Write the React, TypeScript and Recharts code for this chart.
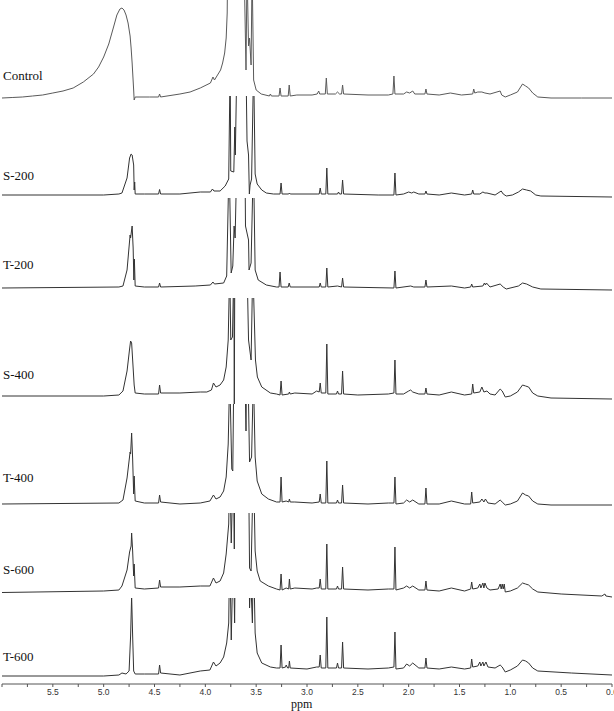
import { LineChart, Line, XAxis, YAxis } from 'recharts';

// each spectrum: [ppm, intensity above its own baseline (px)]
const control = [
  [6.0, 0], [5.9, 0.5], [5.8, 1], [5.7, 2], [5.6, 3], [5.5, 5], [5.4, 7], [5.3, 10], [5.2, 16], [5.1, 24],
  [5.05, 31], [5.0, 41], [4.95, 54], [4.9, 72], [4.87, 83], [4.84, 89], [4.82, 90], [4.8, 88], [4.78, 83],
  [4.76, 75], [4.74, 62], [4.73, 50], [4.72, 35], [4.705, 8], [4.7, -2], [4.69, 1], [4.55, 1], [4.46, 1],
  [4.45, 4], [4.44, 1], [4.25, 4], [4.15, 6], [4.05, 10], [3.95, 15], [3.925, 21], [3.91, 18], [3.85, 28],
  [3.83, 35], [3.81, 45], [3.795, 60], [3.785, 85], [3.78, 140], [3.62, 140], [3.6, 28], [3.59, 130],
  [3.575, 52], [3.565, 60], [3.55, 33], [3.54, 130], [3.525, 18], [3.5, 8], [3.45, 4], [3.37, 2], [3.36, 4],
  [3.35, 2], [3.275, 2], [3.265, 10], [3.255, 2], [3.185, 2], [3.175, 13], [3.165, 2], [3.1, 3], [2.95, 3],
  [2.9, 4], [2.885, 7], [2.875, 4], [2.82, 4], [2.81, 20], [2.8, 4], [2.72, 4], [2.7, 6], [2.68, 4],
  [2.66, 4], [2.65, 13], [2.64, 4], [2.4, 3], [2.2, 3], [2.155, 4], [2.145, 22], [2.135, 4], [2.05, 4],
  [2.02, 6], [1.99, 5], [1.96, 7], [1.94, 4], [1.84, 4], [1.83, 9], [1.82, 4], [1.7, 3], [1.59, 5],
  [1.48, 3], [1.37, 4], [1.36, 9], [1.35, 5], [1.32, 6], [1.28, 6], [1.25, 5], [1.2, 4], [1.1, 7],
  [1.085, 3], [1.05, 1], [1.0, 3], [0.93, 6], [0.88, 14], [0.85, 12], [0.82, 10], [0.78, 5], [0.73, 1],
  [0.6, 0], [0.3, 0], [0.0, 0],
];

const s200 = [
  [6.0, 0], [5.0, 0], [4.85, 1], [4.82, 2], [4.77, 17], [4.745, 37], [4.73, 41], [4.72, 40], [4.705, 30],
  [4.7, 5], [4.695, 13], [4.69, 1], [4.6, 1], [4.46, 1], [4.45, 5.5], [4.44, 1], [4.25, 1], [4.05, 3],
  [3.95, 3], [3.93, 6], [3.915, 4], [3.855, 4], [3.805, 9], [3.77, 16], [3.756, 130], [3.75, 24], [3.72, 23],
  [3.71, 68], [3.705, 40], [3.69, 130], [3.6, 130], [3.59, 54], [3.575, 40], [3.567, 1], [3.56, 10],
  [3.545, 16], [3.525, 130], [3.51, 21], [3.49, 11], [3.445, 5], [3.4, 2], [3.33, 1], [3.265, 1],
  [3.255, 12], [3.245, 1], [3.18, 1], [3.173, 2], [3.165, 1], [2.9, 1], [2.88, 1], [2.87, 7], [2.86, 1],
  [2.815, 1], [2.805, 27], [2.795, 1], [2.7, 1], [2.69, 3], [2.68, 1], [2.66, 1], [2.65, 15], [2.64, 1],
  [2.3, 0], [2.145, 0], [2.135, 22], [2.125, 0], [2.05, 1], [2.0, 3], [1.97, 2], [1.95, 3], [1.9, 1],
  [1.84, 1], [1.83, 4], [1.82, 1], [1.7, 0], [1.58, 2], [1.45, 0], [1.38, 1], [1.37, 5], [1.36, 1], [1.3, 1],
  [1.27, 3], [1.25, 2], [1.23, 2], [1.15, 0], [1.09, 4], [1.07, 1], [1.04, -1], [0.98, 0], [0.92, 3],
  [0.88, 6], [0.84, 5], [0.8, 4], [0.75, 0], [0.7, -1], [0.0, -2],
];

const t200 = [
  [6.0, 0], [4.85, 1], [4.81, 2], [4.77, 18], [4.74, 53], [4.735, 50], [4.72, 62], [4.71, 40], [4.703, 8],
  [4.698, 29], [4.69, 2], [4.6, 1], [4.46, 1], [4.45, 5], [4.44, 1], [4.1, 2], [3.95, 3], [3.925, 6],
  [3.91, 4], [3.82, 5], [3.79, 12], [3.766, 130], [3.746, 15], [3.73, 22], [3.717, 62], [3.707, 50],
  [3.69, 130], [3.61, 130], [3.605, 62], [3.575, 48], [3.57, 18], [3.55, 25], [3.527, 130], [3.51, 18],
  [3.48, 8], [3.4, 3], [3.3, 1], [3.275, 1], [3.265, 16], [3.255, 1], [3.185, 1], [3.175, 5], [3.165, 1],
  [2.88, 1], [2.87, 5], [2.86, 1], [2.815, 1], [2.805, 20], [2.795, 1], [2.7, 2], [2.66, 1], [2.65, 10],
  [2.64, 1], [2.145, 0], [2.135, 17], [2.125, 0], [1.98, 2], [1.95, 1], [1.84, 1], [1.83, 8], [1.82, 1],
  [1.58, 2], [1.45, 0], [1.39, 1], [1.38, 4], [1.37, 1], [1.27, 2], [1.255, 5], [1.245, 3], [1.235, 5],
  [1.2, 1], [1.1, 4], [1.07, 1], [1.04, -1], [0.92, 2], [0.88, 5], [0.84, 4], [0.78, 1], [0.7, -1], [0.0, -2],
];

const s400 = [
  [6.0, -1], [5.0, -1], [4.85, 0], [4.81, 4], [4.77, 24], [4.745, 46], [4.735, 54], [4.725, 52], [4.7, 10],
  [4.69, 2], [4.6, 1], [4.46, 1], [4.45, 10], [4.44, 2], [4.25, 2], [4.05, 3], [3.985, 3], [3.94, 5],
  [3.92, 12], [3.895, 8], [3.855, 10], [3.82, 15], [3.795, 28], [3.775, 55], [3.76, 130], [3.75, 55],
  [3.733, 58], [3.72, 130], [3.715, -9], [3.71, 130], [3.59, 130], [3.575, 55], [3.55, 35], [3.533, 130],
  [3.507, 35], [3.488, 18], [3.445, 8], [3.36, 2], [3.3, 1], [3.265, 0], [3.255, 14], [3.245, 0], [3.18, 1],
  [3.173, 3], [3.165, 1], [3.12, 2], [2.95, 1], [2.905, 4], [2.88, 3], [2.87, 12], [2.86, 2], [2.815, 2],
  [2.805, 51], [2.795, 1], [2.71, 1], [2.7, 4], [2.69, 1], [2.66, 1], [2.65, 24], [2.64, 1], [2.5, 0],
  [2.2, 1], [2.145, 2], [2.135, 35], [2.125, 1], [2.05, 1], [2.0, 4], [1.98, 5], [1.96, 3], [1.9, 1],
  [1.84, 1], [1.83, 7], [1.82, 1], [1.7, 0], [1.58, 3], [1.45, 0], [1.38, 1], [1.37, 11], [1.36, 2],
  [1.3, 3], [1.28, 8], [1.26, 3], [1.23, 4], [1.2, 1], [1.15, 0], [1.1, 6], [1.08, 4], [1.05, -2], [1.0, -1],
  [0.93, 3], [0.88, 10], [0.85, 9], [0.82, 8], [0.78, 2], [0.73, -1], [0.6, -3], [0.0, -4],
];

const t400 = [
  [6.0, 0], [4.85, 1], [4.81, 4], [4.77, 26], [4.74, 52], [4.735, 50], [4.725, 71], [4.715, 45], [4.705, 10],
  [4.7, 28], [4.69, 3], [4.6, 1], [4.46, 1], [4.45, 9], [4.44, 2], [4.25, 0], [4.05, 1], [3.955, 3],
  [3.92, 9], [3.895, 5], [3.855, 7], [3.82, 13], [3.795, 27], [3.775, 60], [3.76, 130], [3.74, 35],
  [3.73, 33], [3.72, 130], [3.61, 130], [3.6, 73], [3.595, 130], [3.58, 130], [3.565, 42], [3.545, 47],
  [3.527, 130], [3.51, 47], [3.49, 23], [3.445, 10], [3.38, 5], [3.3, 2], [3.265, 2], [3.255, 27], [3.245, 2],
  [3.205, 3], [3.18, 2], [3.173, 5], [3.165, 2], [3.12, 2], [2.95, 1], [2.88, 2], [2.87, 10], [2.86, 1],
  [2.815, 1], [2.805, 43], [2.795, 1], [2.71, 1], [2.7, 4], [2.69, 1], [2.66, 1], [2.65, 19], [2.64, 1],
  [2.4, 0], [2.2, 1], [2.145, 1], [2.135, 27], [2.125, 0], [2.05, 1], [2.02, 4], [1.99, 2], [1.96, 4],
  [1.9, 0], [1.84, 0], [1.83, 16], [1.82, 0], [1.7, 0], [1.58, 3], [1.45, 0], [1.39, 0], [1.38, 12],
  [1.37, 1], [1.3, 2], [1.28, 5], [1.26, 2], [1.245, 5], [1.22, 1], [1.15, 0], [1.1, 4], [1.08, 2],
  [1.05, -1], [1.0, 0], [0.93, 3], [0.88, 11], [0.85, 9], [0.82, 8], [0.78, 3], [0.73, 0], [0.6, -1], [0.0, -1],
];

const s600 = [
  [6.0, -1.5], [5.0, 0], [4.85, 1], [4.82, 5], [4.77, 21], [4.745, 39], [4.73, 45], [4.725, 58], [4.715, 40],
  [4.705, 15], [4.7, 27], [4.69, 3], [4.6, 2], [4.46, 3], [4.45, 11], [4.44, 4], [4.25, 4], [4.05, 5],
  [3.955, 5], [3.92, 13], [3.895, 8], [3.855, 10], [3.82, 18], [3.795, 37], [3.77, 67], [3.76, 130],
  [3.745, 48], [3.725, 130], [3.715, 42], [3.71, 130], [3.575, 130], [3.565, 23], [3.55, 20], [3.527, 130],
  [3.51, 40], [3.49, 20], [3.46, 10], [3.38, 5], [3.3, 2], [3.265, 1], [3.255, 17], [3.245, 1], [3.205, 3],
  [3.18, 2], [3.173, 12], [3.165, 2], [3.12, 3], [2.95, 2], [2.905, 3], [2.88, 3], [2.87, 12], [2.86, 2],
  [2.815, 2], [2.805, 47], [2.795, 2], [2.71, 2], [2.7, 5], [2.69, 2], [2.66, 2], [2.65, 24], [2.64, 2],
  [2.4, 1], [2.2, 2], [2.145, 2], [2.135, 44], [2.125, 1], [2.05, 3], [2.02, 5], [1.99, 3], [1.96, 5],
  [1.9, 1], [1.84, 1], [1.83, 10], [1.82, 1], [1.7, 0], [1.58, 3], [1.45, 0], [1.39, 2], [1.38, 9],
  [1.37, 2], [1.32, 3], [1.3, 7], [1.29, 3], [1.27, 8], [1.26, 3], [1.25, 8], [1.23, 3], [1.2, 1],
  [1.12, 2], [1.1, 7], [1.09, 2], [1.08, 7], [1.07, 2], [1.06, 7], [1.05, -1], [1.0, 0], [0.93, 3],
  [0.88, 8], [0.85, 7], [0.82, 6], [0.78, 2], [0.73, -1], [0.5, -3], [0.1, -5], [0.07, -3], [0.06, -5],
  [0.0, -6],
];

const t600 = [
  [6.0, 0], [5.0, 0], [4.85, 1], [4.82, 3], [4.78, 2], [4.75, 5], [4.735, 40], [4.725, 80], [4.715, 40],
  [4.705, 5], [4.69, 2], [4.6, 2], [4.46, 2], [4.45, 11], [4.44, 3], [4.25, 1], [4.05, 5], [3.955, 6],
  [3.92, 14], [3.895, 10], [3.855, 13], [3.82, 19], [3.79, 33], [3.77, 53], [3.76, 130], [3.745, 36],
  [3.725, 130], [3.712, 53], [3.705, 130], [3.57, 130], [3.565, 68], [3.555, 100], [3.537, 53],
  [3.527, 130], [3.51, 43], [3.49, 23], [3.445, 13], [3.36, 9], [3.3, 8], [3.265, 8], [3.255, 31],
  [3.245, 8], [3.21, 9], [3.205, 11], [3.19, 8], [3.18, 8], [3.173, 15], [3.165, 8], [3.0, 7], [2.905, 9],
  [2.88, 9], [2.87, 21], [2.86, 8], [2.815, 8], [2.805, 59], [2.795, 8], [2.71, 8], [2.7, 13], [2.69, 8],
  [2.66, 8], [2.65, 34], [2.64, 8], [2.4, 7], [2.2, 8], [2.145, 9], [2.135, 44], [2.125, 7], [2.05, 8],
  [2.02, 12], [1.99, 10], [1.96, 13], [1.9, 8], [1.84, 8], [1.83, 18], [1.82, 8], [1.7, 7], [1.58, 9],
  [1.45, 7], [1.39, 8], [1.38, 17], [1.37, 9], [1.32, 10], [1.3, 14], [1.29, 10], [1.27, 14], [1.26, 10],
  [1.24, 14], [1.22, 9], [1.15, 8], [1.1, 11], [1.08, 9], [1.05, 4], [1.0, 6], [0.93, 10], [0.88, 16],
  [0.85, 15], [0.82, 13], [0.78, 8], [0.73, 5], [0.4, 3], [0.0, 1],
];

const sampleNames = ['Control', 'S-200', 'T-200', 'S-400', 'T-400', 'S-600', 'T-600'];
const ppmTicks = [0, 0.25, 0.5, 0.75, 1, 1.25, 1.5, 1.75, 2, 2.25, 2.5, 2.75, 3, 3.25, 3.5, 3.75, 4, 4.25, 4.5, 4.75, 5, 5.25, 5.5, 5.75, 6];

// layout of the stack (page px): top of clip window, baseline, label centre
const layout = [
  { top: 0, base: 98, labelY: 77, color: '#5a5a5a' },
  { top: 96, base: 195, labelY: 177, color: '#333' },
  { top: 198, base: 288, labelY: 266, color: '#333' },
  { top: 298, base: 395, labelY: 376, color: '#333' },
  { top: 404, base: 504, labelY: 479, color: '#333' },
  { top: 513, base: 591, labelY: 571, color: '#333' },
  { top: 598, base: 676, labelY: 658, color: '#333' },
];

const spectra = [control, s200, t200, s400, t400, s600, t600];

const W = 614;
const serif = '"Liberation Serif", "Times New Roman", serif';

function Spectrum({ points, top, base, color, axis }: any) {
  const data = points.map(([ppm, h]: number[]) => ({ ppm, h }));
  const H = base - top;
  const pad = axis ? 8 : 12;
  const axisH = axis ? 22 : 0;
  return (
    <div style={{ position: 'absolute', left: 0, top, width: W, height: H + pad + axisH }}>
      <LineChart width={W} height={H + pad + axisH} data={data} margin={{ top: 0, right: 2, bottom: 0, left: 2 }}>
        {axis ? (
          <XAxis
            dataKey="ppm"
            type="number"
            domain={[0, 6]}
            reversed
            allowDataOverflow
            ticks={ppmTicks}
            interval={0}
            tickSize={3}
            height={axisH}
            tickFormatter={(v: number) => (v % 0.5 === 0 && v < 6 ? v.toFixed(1) : '')}
            tick={{ fontSize: 8.5, fill: '#333', fontFamily: '"Liberation Sans", Arial, sans-serif' }}
            axisLine={{ stroke: '#555' }}
            tickLine={{ stroke: '#555' }}
          />
        ) : (
          <XAxis dataKey="ppm" type="number" domain={[0, 6]} reversed allowDataOverflow hide />
        )}
        <YAxis hide domain={[-pad, H]} allowDataOverflow />
        <Line
          type="linear"
          dataKey="h"
          stroke={color}
          strokeWidth={1}
          dot={false}
          activeDot={false}
          isAnimationActive={false}
        />
      </LineChart>
    </div>
  );
}

export default function App() {
  return (
    <div style={{ position: 'absolute', left: 0, top: 0, width: W, height: 711, overflow: 'hidden', background: '#fff' }}>
      {layout.map((l, i) => (
        <Spectrum key={sampleNames[i]} points={spectra[i]} top={l.top} base={l.base} color={l.color} axis={i === layout.length - 1} />
      ))}
      {layout.map((l, i) => (
        <div
          key={'lbl' + i}
          style={{ position: 'absolute', left: 3, top: l.labelY - 9, fontFamily: serif, fontSize: 13, lineHeight: '16px', color: '#111' }}
        >
          {sampleNames[i]}
        </div>
      ))}
      <div style={{ position: 'absolute', left: 291, top: 698, fontFamily: serif, fontSize: 12, lineHeight: '12px', color: '#111' }}>
        ppm
      </div>
    </div>
  );
}
